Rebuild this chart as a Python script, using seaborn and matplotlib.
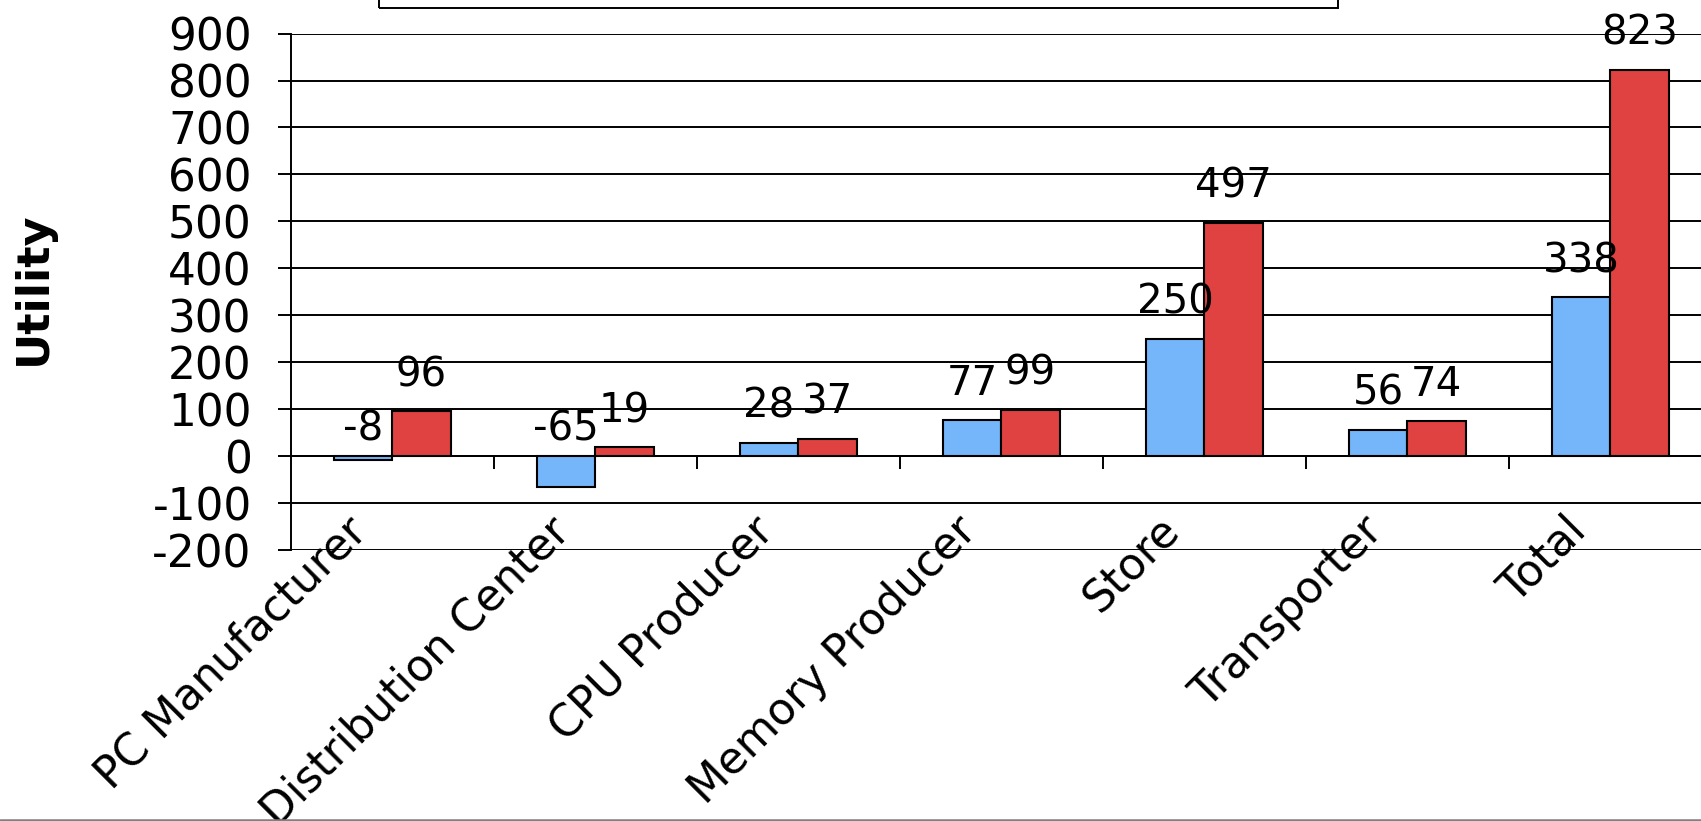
import numpy as np
import pandas as pd
import matplotlib
matplotlib.use("Agg")
import matplotlib.pyplot as plt
import seaborn as sns
from matplotlib.ticker import FixedLocator, FixedFormatter, NullFormatter
from matplotlib.transforms import ScaledTranslation
from matplotlib.patches import Rectangle
from matplotlib.lines import Line2D

# Utility per supply-chain role, two scenarios
roles = ["PC Manufacturer", "Distribution Center", "CPU Producer",
         "Memory Producer", "Store", "Transporter", "Total"]
series_names = ["Series 1", "Series 2"]
utility_s1 = [-8, -65, 28, 77, 250, 56, 338]
utility_s2 = [96, 19, 37, 99, 497, 74, 823]
y_ticks = list(range(-200, 1000, 100))

BLUE = "#75B5FA"
RED = "#E04141"
FS = 31.5
FS_CAT = 31.5
FS_VAL = 29

df = pd.DataFrame({
    "Role": roles * 2,
    "Utility": utility_s1 + utility_s2,
    "Series": [series_names[0]] * len(roles) + [series_names[1]] * len(roles),
})

sns.set_style("white")
plt.rcParams["font.family"] = ["DejaVu Sans"]
plt.rcParams["axes.unicode_minus"] = False
plt.rcParams["text.color"] = "black"
plt.rcParams["axes.labelcolor"] = "black"
plt.rcParams["xtick.color"] = "black"
plt.rcParams["ytick.color"] = "black"

W, H = 1701, 821
fig = plt.figure(figsize=(W / 100, H / 100), dpi=100)
left_px, right_px, top_px, bot_px = 290.7, 1712, 33.6, 550
ax = fig.add_axes([left_px / W, (H - bot_px) / H,
                   (right_px - left_px) / W, (bot_px - top_px) / H])

sns.barplot(data=df, x="Role", y="Utility", hue="Series",
            palette=[BLUE, RED], width=0.576, gap=0, saturation=1,
            edgecolor="black", linewidth=1.5, legend=False, ax=ax, zorder=3)

ax.set_xlim(-0.5, 6.5)
ax.set_ylim(-200, 900)
ax.set_xlabel("")

# horizontal grid in black, category axis sitting on zero
ax.set_yticks(y_ticks)
ax.yaxis.grid(True, color="black", linewidth=1.4)
ax.xaxis.grid(False)
ax.set_axisbelow(True)
for side in ("top", "right"):
    ax.spines[side].set_visible(False)
ax.spines["left"].set_color("black")
ax.spines["left"].set_linewidth(1.4)
ax.spines["bottom"].set_color("black")
ax.spines["bottom"].set_linewidth(1.4)
ax.spines["bottom"].set_position(("data", 0))

# major ticks between categories, labels on minor ticks at the centres
ax.xaxis.set_major_locator(FixedLocator(np.arange(0.5, 6.0, 1.0)))
ax.xaxis.set_major_formatter(NullFormatter())
ax.xaxis.set_minor_locator(FixedLocator(np.arange(len(roles))))
ax.xaxis.set_minor_formatter(FixedFormatter(roles))
ax.tick_params(axis="x", which="major", direction="out", length=9.4,
               width=1.4, color="black", bottom=True)
ax.tick_params(axis="x", which="minor", length=0, pad=38, labelsize=FS_CAT,
               labelcolor="black", bottom=True)
shift = ScaledTranslation(-0.47, 0, fig.dpi_scale_trans)
for lab in ax.xaxis.get_minorticklabels():
    lab.set_rotation(45)
    lab.set_ha("right")
    lab.set_va("top")
    lab.set_rotation_mode("anchor")
    lab.set_transform(lab.get_transform() + shift)

ax.tick_params(axis="y", direction="out", length=9.4, width=1.4,
               color="black", left=True, pad=18.7, labelsize=FS,
               labelcolor="black")

ax.set_ylabel("Utility", fontsize=32, fontweight="bold", color="black")
ax.yaxis.label.set_va("center")
ax.yaxis.set_label_coords((33 - left_px) / (right_px - left_px), 0.507)

# value labels above each bar
for cont, vals in zip(ax.containers, [utility_s1, utility_s2]):
    for bar, v in zip(cont, vals):
        xc = bar.get_x() + bar.get_width() / 2
        off = 11.5 if v >= 0 else 4.5
        ax.annotate(f"{v}", (xc, max(v, 0)), xytext=(0, off),
                    textcoords="offset points", ha="center", va="bottom",
                    fontsize=FS_VAL, color="black", zorder=5)

# legend frame at the top and the bottom border line
fig.patches.append(Rectangle((379 / W, (H - 8) / H), (1338 - 379) / W, 0.05,
                             transform=fig.transFigure, fill=False,
                             edgecolor="black", linewidth=1.4))
fig.add_artist(Line2D([0, 1], [1.2 / H, 1.2 / H], transform=fig.transFigure,
                      color="#808080", linewidth=1.8))

fig.savefig("out.png", dpi=100)
